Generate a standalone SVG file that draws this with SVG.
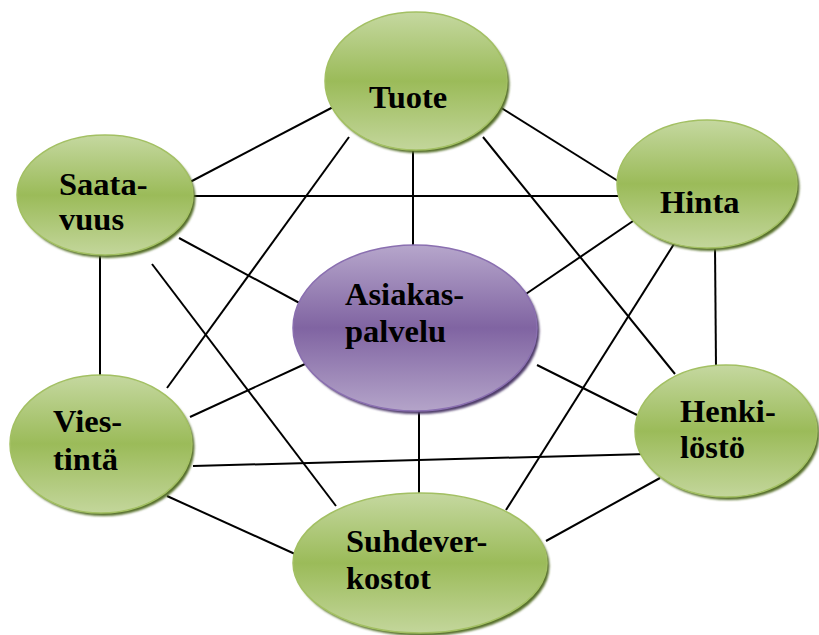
<svg xmlns="http://www.w3.org/2000/svg" width="819" height="635" viewBox="0 0 819 635">
<defs>
<linearGradient id="gGreen" x1="0" y1="0" x2="0" y2="1">
<stop offset="0" stop-color="#c5d8a0"/>
<stop offset="0.5" stop-color="#9bbb59"/>
<stop offset="1" stop-color="#c3d69b"/>
</linearGradient>
<linearGradient id="gPurple" x1="0" y1="0" x2="0" y2="1">
<stop offset="0" stop-color="#b6a6cb"/>
<stop offset="0.5" stop-color="#8064a2"/>
<stop offset="1" stop-color="#b4a4c9"/>
</linearGradient>
<filter id="blur" x="-10%" y="-10%" width="120%" height="120%">
<feGaussianBlur stdDeviation="0.8"/>
</filter>
</defs>
<style>
.conn line{stroke:#000;stroke-width:2;}
.sh-g{fill:#56702a;filter:url(#blur);}
.sh-p{fill:#4f3c6b;filter:url(#blur);}
.el-g{fill:url(#gGreen);stroke:#a3c063;stroke-width:1.5;}
.el-p{fill:url(#gPurple);stroke:#8a6fb0;stroke-width:1.5;}
.lbl{font-family:"Liberation Serif","Times New Roman",serif;font-weight:bold;font-size:32.5px;fill:#000;}
</style>
<g id="connectors" class="conn">
<line x1="190" y1="182" x2="337" y2="105"/>
<line x1="190" y1="196" x2="618" y2="196"/>
<line x1="349" y1="137" x2="167" y2="388"/>
<line x1="179" y1="238" x2="305" y2="306"/>
<line x1="152" y1="264" x2="336" y2="506"/>
<line x1="190" y1="417" x2="305" y2="364"/>
<line x1="193" y1="466" x2="647" y2="454"/>
<line x1="100" y1="255" x2="100" y2="375"/>
<line x1="167" y1="496" x2="295" y2="554"/>
<line x1="413" y1="150" x2="413" y2="245"/>
<line x1="419" y1="412" x2="419" y2="493"/>
<line x1="495" y1="104" x2="618" y2="181"/>
<line x1="483" y1="137" x2="675" y2="374"/>
<line x1="636" y1="219" x2="520" y2="298"/>
<line x1="674" y1="244" x2="506" y2="510"/>
<line x1="715" y1="246" x2="716" y2="366"/>
<line x1="537" y1="365" x2="637" y2="415"/>
<line x1="660" y1="478" x2="546" y2="541"/>
</g>
<g id="tuote">
<ellipse class="sh-g" cx="418.5" cy="84" rx="91" ry="69"/>
<ellipse class="el-g" cx="416" cy="81" rx="91" ry="69"/>
<text class="lbl" x="369" y="108">Tuote</text>
</g>
<g id="saatavuus">
<ellipse class="sh-g" cx="107.5" cy="198" rx="88" ry="60"/>
<ellipse class="el-g" cx="105" cy="195" rx="88" ry="60"/>
<text class="lbl" x="59" y="195">Saata-</text>
<text class="lbl" x="59" y="230">vuus</text>
</g>
<g id="hinta">
<ellipse class="sh-g" cx="709.5" cy="187" rx="90" ry="64"/>
<ellipse class="el-g" cx="707" cy="184" rx="90" ry="64"/>
<text class="lbl" x="660" y="213">Hinta</text>
</g>
<g id="asiakaspalvelu">
<ellipse class="sh-p" cx="417.5" cy="331" rx="122" ry="83"/>
<ellipse class="el-p" cx="415" cy="328" rx="122" ry="83"/>
<text class="lbl" x="345" y="305">Asiakas-</text>
<text class="lbl" x="345" y="342">palvelu</text>
</g>
<g id="viestinta">
<ellipse class="sh-g" cx="103.5" cy="447" rx="91" ry="69"/>
<ellipse class="el-g" cx="101" cy="444" rx="91" ry="69"/>
<text class="lbl" x="53" y="432">Vies-</text>
<text class="lbl" x="53" y="470">tintä</text>
</g>
<g id="henkilosto">
<ellipse class="sh-g" cx="728.5" cy="434" rx="91" ry="66"/>
<ellipse class="el-g" cx="726" cy="431" rx="91" ry="66"/>
<text class="lbl" x="680" y="422">Henki-</text>
<text class="lbl" x="680" y="458">löstö</text>
</g>
<g id="suhdeverkostot">
<ellipse class="sh-g" cx="422.5" cy="566" rx="127" ry="70"/>
<ellipse class="el-g" cx="420" cy="563" rx="127" ry="70"/>
<text class="lbl" x="346" y="552">Suhdever-</text>
<text class="lbl" x="346" y="589">kostot</text>
</g>
</svg>
